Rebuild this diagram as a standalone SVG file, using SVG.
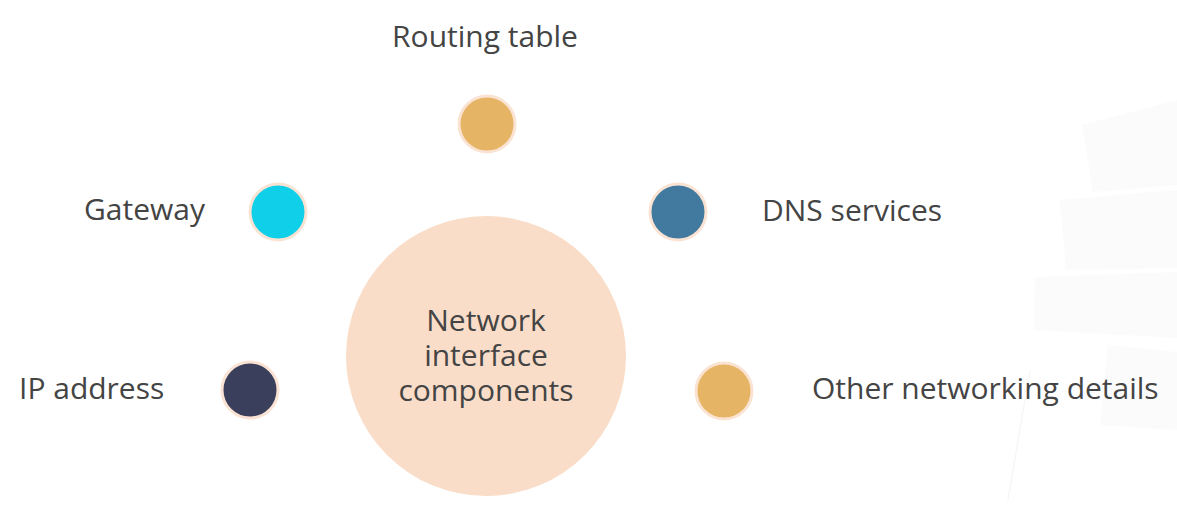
<svg xmlns="http://www.w3.org/2000/svg" width="1177" height="509" viewBox="0 0 1177 509">
<style>
.lbl{font-family:"Open Sans","Noto Sans",sans-serif;font-size:30px;fill:#444444}
.dot{stroke:#FBE3D3;stroke-width:3}
.bg{fill:#f9f9f9;opacity:0.6}
</style>
<rect width="1177" height="509" fill="#ffffff"/>
<g id="background">
<polygon class="bg" points="1082,125 1177,100 1177,185 1093,192"/>
<polygon class="bg" points="1060,200 1177,190 1177,268 1066,270"/>
<polygon class="bg" points="1035,277 1177,272 1177,338 1034,330"/>
<polygon class="bg" points="1108,345 1177,352 1177,430 1100,425"/>
<path d="M1030,370 Q1020,430 1008,500" fill="none" stroke="#f7f7f7" stroke-width="1.5"/>
</g>
<g id="center">
<circle cx="486" cy="356" r="140" fill="#F9DDC9"/>
<text class="lbl" x="486" y="331" text-anchor="middle">Network</text>
<text class="lbl" x="486" y="366" text-anchor="middle">interface</text>
<text class="lbl" x="486" y="401" text-anchor="middle">components</text>
</g>
<g id="routing">
<circle class="dot" cx="487" cy="124" r="28" fill="#E5B465"/>
<text class="lbl" x="485" y="47" text-anchor="middle">Routing table</text>
</g>
<g id="gateway">
<circle class="dot" cx="278" cy="212" r="28" fill="#10CFE8"/>
<text class="lbl" x="205" y="220" text-anchor="end">Gateway</text>
</g>
<g id="dns">
<circle class="dot" cx="678" cy="212" r="28" fill="#41799F"/>
<text class="lbl" x="762" y="221">DNS services</text>
</g>
<g id="ip">
<circle class="dot" cx="250" cy="390" r="28" fill="#3A3F5C"/>
<text class="lbl" x="19" y="399">IP address</text>
</g>
<g id="other">
<circle class="dot" cx="724" cy="391" r="28" fill="#E5B465"/>
<text class="lbl" x="812" y="399">Other networking details</text>
</g>
<g id="connectors"></g>
</svg>
